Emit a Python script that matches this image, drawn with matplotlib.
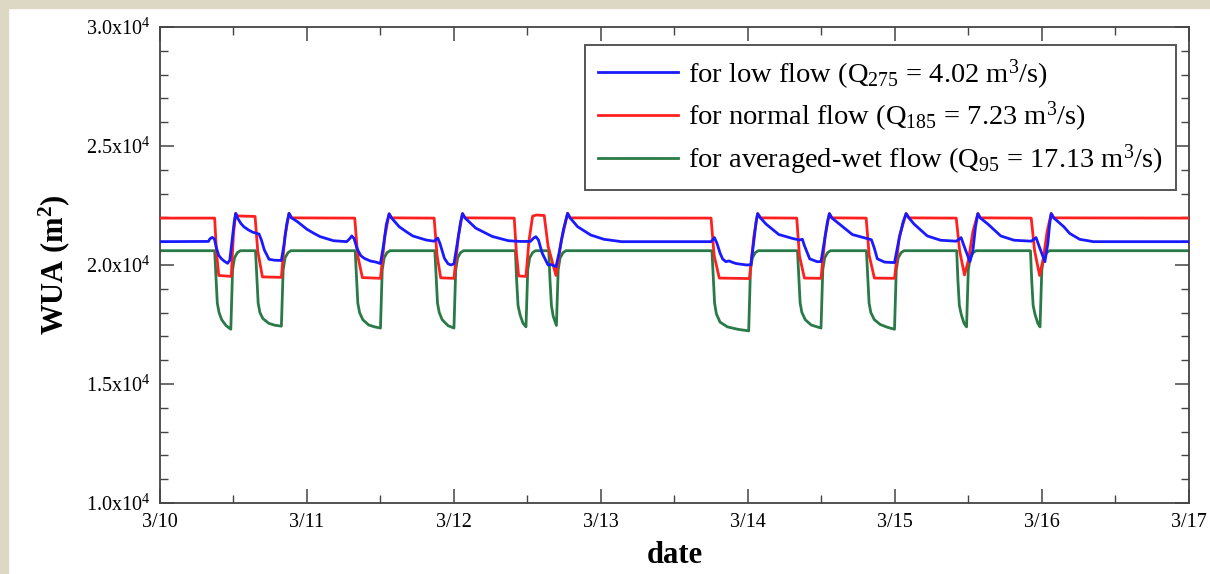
import numpy as np
import matplotlib
matplotlib.use("Agg")
import matplotlib.pyplot as plt
import matplotlib.dates as mdates
from matplotlib.patches import Rectangle
from matplotlib.ticker import MultipleLocator, FixedLocator, FuncFormatter

plt.rcParams['font.family'] = ['Liberation Serif', 'DejaVu Serif']
plt.rcParams['mathtext.fontset'] = 'custom'
plt.rcParams['mathtext.rm'] = 'Liberation Serif'
plt.rcParams['mathtext.it'] = 'Liberation Serif:italic'
plt.rcParams['mathtext.bf'] = 'Liberation Serif:bold'

START = np.datetime64('2000-03-10T00:00')

# time in days after 3/10 00:00, WUA in m2
low_day = [0.0, 0.330, 0.340, 0.355, 0.370, 0.385, 0.40, 0.42, 0.44, 0.46, 0.475, 0.490, 0.505, 0.515,
           0.53, 0.55, 0.57, 0.60, 0.63, 0.674, 0.690, 0.710, 0.742, 0.78, 0.826, 0.845, 0.862, 0.878,
           0.895, 0.935, 1.00, 1.05, 1.09, 1.18, 1.27, 1.290, 1.305, 1.320, 1.34, 1.365, 1.39, 1.43,
           1.47, 1.50, 1.52, 1.540, 1.559, 1.575, 1.627, 1.68, 1.72, 1.81, 1.865, 1.890, 1.905, 1.935,
           1.960, 1.980, 2.00, 2.025, 2.045, 2.058, 2.075, 2.148, 2.26, 2.37, 2.45, 2.52, 2.540, 2.557,
           2.575, 2.600, 2.640, 2.660, 2.694, 2.715, 2.745, 2.773, 2.79, 2.841, 2.93, 3.02, 3.14, 3.749,
           3.772, 3.790, 3.81, 3.828, 3.85, 3.87, 3.90, 3.92, 3.99, 4.02, 4.040, 4.055, 4.066, 4.085,
           4.123, 4.21, 4.30, 4.35, 4.370, 4.385, 4.42, 4.47, 4.497, 4.520, 4.540, 4.554, 4.57, 4.622,
           4.71, 4.804, 4.84, 4.86, 4.88, 4.93, 4.997, 5.025, 5.055, 5.076, 5.095, 5.13, 5.22, 5.31,
           5.417, 5.45, 5.47, 5.51, 5.53, 5.548, 5.564, 5.58, 5.632, 5.72, 5.81, 5.927, 5.96, 5.98,
           6.02, 6.04, 6.052, 6.063, 6.08, 6.15, 6.188, 6.256, 6.35, 7.0]
low_wua = [20980, 20990, 21100, 21160, 21100, 20700, 20400, 20250, 20150, 20070, 20200, 21000, 21800, 22170,
           21950, 21750, 21610, 21480, 21380, 21300, 21050, 20630, 20240, 20200, 20190, 20900, 21700, 22170,
           21980, 21820, 21500, 21320, 21190, 21020, 20980, 21100, 21220, 21120, 20700, 20400, 20280, 20170,
           20120, 20060, 20800, 21700, 22150, 21980, 21610, 21380, 21220, 21050, 21000, 21130, 20900, 20280,
           20050, 20000, 20050, 21000, 21800, 22160, 21980, 21550, 21200, 21020, 20990, 20990, 21120, 21190,
           21050, 20500, 20000, 20020, 19930, 20500, 21500, 22170, 21980, 21610, 21260, 21080, 20980, 20980,
           21150, 20900, 20500, 20250, 20140, 20170, 20100, 20060, 20000, 20010, 21000, 21800, 22160, 21980,
           21720, 21280, 21120, 21050, 21080, 20800, 20260, 20140, 20140, 21000, 21800, 22160, 21980, 21720,
           21280, 21120, 21060, 20700, 20260, 20120, 20100, 21000, 21800, 22160, 21980, 21720, 21220, 21040,
           21000, 21150, 20800, 20140, 20600, 21600, 22160, 21980, 21720, 21220, 21040, 21000, 21150, 20800,
           20140, 20900, 21700, 22160, 21980, 21600, 21330, 21080, 20980, 20980]

normal_day = [0.0, 0.372, 0.385, 0.40, 0.485, 0.50, 0.515, 0.53, 0.647, 0.665, 0.697, 0.826, 0.85, 0.878,
              0.895, 1.325, 1.345, 1.377, 1.50, 1.53, 1.559, 1.575, 1.865, 1.885, 1.91, 2.0, 2.03, 2.058,
              2.075, 2.41, 2.425, 2.44, 2.49, 2.51, 2.535, 2.56, 2.614, 2.64, 2.694, 2.73, 2.773, 2.79,
              3.749, 3.77, 3.805, 4.01, 4.04, 4.066, 4.085, 4.332, 4.35, 4.384, 4.497, 4.525, 4.554, 4.57,
              4.804, 4.825, 4.86, 4.997, 5.03, 5.076, 5.095, 5.417, 5.44, 5.473, 5.50, 5.53, 5.564, 5.58,
              5.927, 5.95, 5.984, 6.01, 6.035, 6.063, 6.08, 7.0]
normal_wua = [21970, 21970, 20500, 19560, 19520, 21300, 22150, 22060, 22040, 20600, 19500, 19480, 21200, 22170,
              21980, 21970, 20400, 19470, 19440, 21200, 22150, 21980, 21970, 20400, 19460, 19440, 21200, 22160,
              21980, 21970, 20500, 19540, 19520, 21000, 22050, 22100, 22080, 20800, 19560, 21000, 22170, 21980,
              21970, 20400, 19450, 19430, 21200, 22160, 21980, 21970, 20400, 19450, 19440, 21200, 22160, 21980,
              21970, 20400, 19450, 19440, 21200, 22160, 21980, 21970, 20600, 19580, 20200, 21400, 22160, 21980,
              21970, 20600, 19560, 20300, 21400, 22160, 21980, 21970]

wet_day = [0.0,
           0.372, 0.380, 0.390, 0.402, 0.42, 0.45, 0.482, 0.488, 0.494, 0.507, 0.527, 0.547,
           0.650, 0.658, 0.668, 0.680, 0.70, 0.74, 0.78, 0.826, 0.832, 0.838, 0.851, 0.871, 0.891,
           1.328, 1.336, 1.346, 1.358, 1.38, 1.42, 1.46, 1.500, 1.506, 1.512, 1.525, 1.545, 1.565,
           1.870, 1.878, 1.888, 1.900, 1.92, 1.96, 2.000, 2.006, 2.012, 2.025, 2.045, 2.065,
           2.418, 2.426, 2.436, 2.450, 2.470, 2.490, 2.496, 2.502, 2.515, 2.535, 2.555,
           2.645, 2.653, 2.663, 2.675, 2.697, 2.703, 2.709, 2.722, 2.742, 2.762,
           3.755, 3.763, 3.773, 3.785, 3.81, 3.86, 3.93, 4.005, 4.011, 4.017, 4.030, 4.050, 4.070,
           4.337, 4.345, 4.355, 4.367, 4.39, 4.43, 4.497, 4.503, 4.509, 4.522, 4.542, 4.562,
           4.806, 4.814, 4.824, 4.836, 4.86, 4.90, 4.95, 4.997, 5.003, 5.009, 5.022, 5.042, 5.062,
           5.420, 5.428, 5.438, 5.452, 5.470, 5.487, 5.493, 5.499, 5.512, 5.532, 5.552,
           5.922, 5.930, 5.940, 5.954, 5.972, 5.987, 5.993, 5.999, 6.012, 6.032, 6.052,
           7.0]
wet_wua = [20600,
           20600, 19600, 18400, 18000, 17700, 17450, 17300, 18600, 19800, 20300, 20520, 20600,
           20600, 19600, 18400, 18000, 17750, 17550, 17470, 17430, 18600, 19800, 20300, 20520, 20600,
           20600, 19600, 18400, 18000, 17700, 17480, 17400, 17350, 18600, 19800, 20300, 20520, 20600,
           20600, 19600, 18400, 18000, 17700, 17450, 17350, 18600, 19800, 20300, 20520, 20600,
           20600, 19400, 18300, 17900, 17550, 17400, 18600, 19800, 20300, 20520, 20600,
           20600, 19400, 18300, 17850, 17460, 18600, 19800, 20300, 20520, 20600,
           20600, 19600, 18400, 17950, 17600, 17400, 17300, 17230, 18600, 19800, 20300, 20520, 20600,
           20600, 19600, 18400, 18000, 17700, 17480, 17350, 18600, 19800, 20300, 20520, 20600,
           20600, 19600, 18400, 18000, 17700, 17500, 17380, 17300, 18600, 19800, 20300, 20520, 20600,
           20600, 19400, 18300, 17900, 17550, 17400, 18600, 19800, 20300, 20520, 20600,
           20600, 19400, 18300, 17900, 17550, 17400, 18600, 19800, 20300, 20520, 20600,
           20600]

labels = [r"for low flow (Q$_{275}$ = 4.02 m$^3$/s)",
          r"for normal flow (Q$_{185}$ = 7.23 m$^3$/s)",
          r"for averaged-wet flow (Q$_{95}$ = 17.13 m$^3$/s)"]
colors = ["#1a1aff", "#ff2020", "#2a7a48"]

y_ticks = [10000, 15000, 20000, 25000, 30000]
y_ticklabels = [r"1.0x10$^4$", r"1.5x10$^4$", r"2.0x10$^4$", r"2.5x10$^4$", r"3.0x10$^4$"]


def to_time(days):
    sec = np.round(np.asarray(days) * 86400).astype('int64')
    return START + sec.astype('timedelta64[s]')


fig = plt.figure(figsize=(12.1, 5.74), dpi=100, facecolor='white')
# beige strips along left and top edge
fig.patches.append(Rectangle((0, 0), 8 / 1210, 1, transform=fig.transFigure, color='#ddd8c3', zorder=0))
fig.patches.append(Rectangle((0, 1 - 8 / 574), 1, 8 / 574, transform=fig.transFigure, color='#ddd8c3', zorder=0))

ax = fig.add_axes([0.1322, 0.1237, 0.8504, 0.8293])

series = [(low_day, low_wua), (normal_day, normal_wua), (wet_day, wet_wua)]
zorders = [4, 3, 2]
for (d, w), c, lab, z in zip(series, colors, labels, zorders):
    ax.plot(to_time(d), w, color=c, lw=2.0, label=lab, zorder=z)

ax.set_xlim(to_time([0.0])[0], to_time([7.0])[0])
ax.set_ylim(10000, 30000)

ax.xaxis.set_major_locator(mdates.DayLocator())
ax.xaxis.set_minor_locator(mdates.HourLocator(byhour=[12]))
ax.xaxis.set_major_formatter(FuncFormatter(
    lambda v, pos: f"{mdates.num2date(v).month}/{mdates.num2date(v).day}"))

ax.yaxis.set_major_locator(FixedLocator(y_ticks))
ax.set_yticklabels(y_ticklabels)
ax.yaxis.set_minor_locator(MultipleLocator(1000))

ax.tick_params(which='both', direction='in', top=True, right=True, color='#444444')
ax.tick_params(which='major', length=10, width=1.1, labelsize=14.5, pad=7)
ax.tick_params(which='minor', length=6, width=1.0)
for s in ax.spines.values():
    s.set_color('#444444')
    s.set_linewidth(1.3)

ax.set_xlabel("date", fontsize=22, fontweight='bold', labelpad=7)
ax.set_ylabel(r"WUA (m$^\mathbf{2}$)", fontsize=22, fontweight='bold', labelpad=10)

leg = ax.legend(loc='upper right', bbox_to_anchor=(0.987, 0.963), borderaxespad=0,
                fontsize=20.5, handlelength=2.8, handletextpad=0.35, labelspacing=0.3,
                fancybox=False, framealpha=1, borderpad=0.45)
leg.get_frame().set_edgecolor('#555555')
leg.get_frame().set_linewidth(1.4)

fig.savefig("out.png", dpi=100, facecolor=fig.get_facecolor())
